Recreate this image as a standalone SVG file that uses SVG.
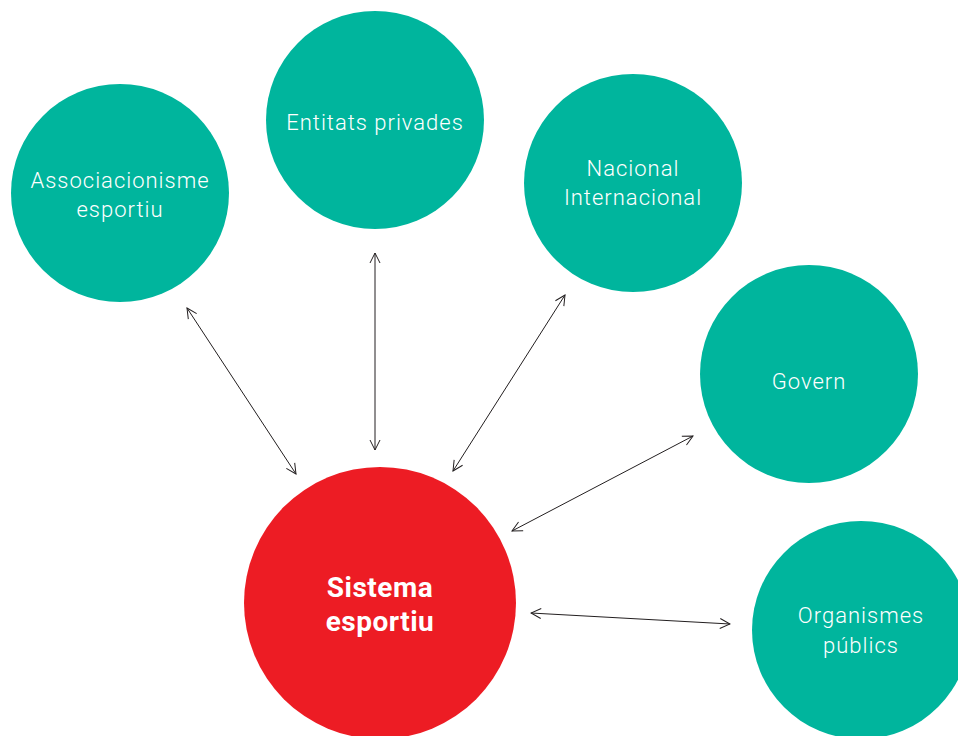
<svg xmlns="http://www.w3.org/2000/svg" width="958" height="736" viewBox="0 0 958 736">
<defs>
<marker id="ah" viewBox="0 0 12 12" refX="11" refY="6" markerWidth="12" markerHeight="12" markerUnits="userSpaceOnUse" orient="auto-start-reverse">
<path d="M1,1 L11,6 L1,11" fill="none" stroke="#231f20" stroke-width="1"/>
</marker>
</defs>
<style>
.t{fill:#00B59D}
.r{fill:#ED1C24}
.lbl{font-family:Roboto,"Liberation Sans",sans-serif;font-size:22px;font-weight:300;fill:#ffffff;text-anchor:middle;letter-spacing:1px}
.big{font-family:Roboto,"Liberation Sans",sans-serif;font-size:28px;font-weight:bold;fill:#ffffff;text-anchor:middle;letter-spacing:0.5px}
.c{stroke:#231f20;stroke-width:1;fill:none;marker-start:url(#ah);marker-end:url(#ah)}
</style>
<rect width="958" height="736" fill="#ffffff"/>
<g id="connectors">
<line class="c" x1="187" y1="308" x2="296" y2="474"/>
<line class="c" x1="375" y1="253" x2="375" y2="450"/>
<line class="c" x1="565" y1="295" x2="453" y2="471"/>
<line class="c" x1="693" y1="436" x2="512" y2="531"/>
<line class="c" x1="531" y1="613" x2="730" y2="624"/>
</g>
<g id="associacionisme">
<circle class="t" cx="120" cy="193" r="109"/>
<text class="lbl" x="120" y="188">Associacionisme</text>
<text class="lbl" x="120" y="217">esportiu</text>
</g>
<g id="entitats">
<circle class="t" cx="375" cy="120" r="109"/>
<text class="lbl" x="375" y="130">Entitats privades</text>
</g>
<g id="nacional">
<circle class="t" cx="633" cy="183" r="109"/>
<text class="lbl" x="633" y="176">Nacional</text>
<text class="lbl" x="633" y="205">Internacional</text>
</g>
<g id="govern">
<circle class="t" cx="809" cy="374" r="109"/>
<text class="lbl" x="809" y="389">Govern</text>
</g>
<g id="organismes">
<circle class="t" cx="861" cy="630" r="109"/>
<text class="lbl" x="861" y="623">Organismes</text>
<text class="lbl" x="861" y="653">públics</text>
</g>
<g id="sistema">
<circle class="r" cx="380" cy="603" r="136"/>
<text class="big" x="380" y="597">Sistema</text>
<text class="big" x="380" y="631">esportiu</text>
</g>
</svg>
